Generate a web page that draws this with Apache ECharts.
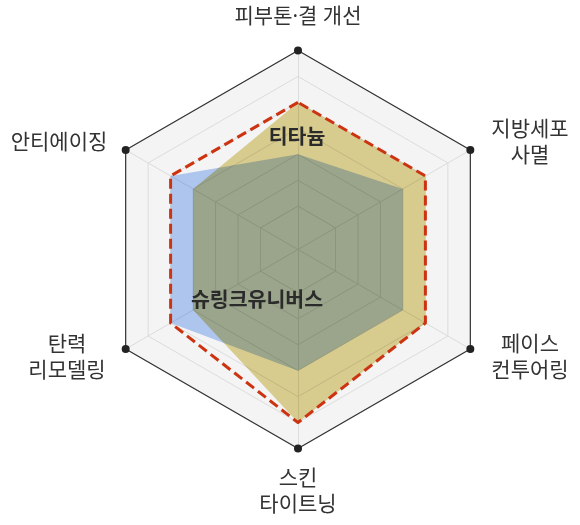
<!DOCTYPE html>
<html><head><meta charset="utf-8">
<script src="https://cdn.jsdelivr.net/npm/echarts@6/dist/echarts.min.js"></script>
<style>html,body{margin:0;padding:0;background:#fff}#c{width:580px;height:525px}</style>
</head><body><div id="c"></div>
<script>
// indicators, counter-clockwise from the top (ECharts radar order)
const categories = ['피부톤·결 개선', '안티에이징', '탄력\n리모델링', '스킨\n타이트닝', '페이스\n컨투어링', '지방세포\n사멸'];
const levelMax = 6;
const titaniumValues = [4, 3, 3, 5, 4, 4];
const shrinkValues = [2, 4, 4, 3, 3, 3];
const envelopeValues = [4, 4, 4, 5, 4, 4];
const frameValues = [6, 6, 6, 6, 6, 6];
const seriesNames = ['티타늄', '슈링크유니버스'];

const labelPos = [[298, 17], [59, 143], [67, 358], [298, 492], [530, 358], [530, 143]];
const seriesLabelPos = [[297, 138], [257, 301]];

const chart = echarts.init(document.getElementById('c'), null, {renderer: 'canvas'});
const C = [298, 249.5], R0 = 43.3, R = 199;
const gridLine = '#dcdcdc', areaFill = '#f4f4f4';
const font = '"Noto Sans", "Noto Sans CJK KR", sans-serif';

const graphic = categories.map((n, i) => ({
  type: 'text', x: labelPos[i][0], y: labelPos[i][1], silent: true,
  style: {text: n, fill: '#333', fontSize: 21, fontFamily: font, align: 'center', verticalAlign: 'middle', lineHeight: 26}
})).concat(seriesNames.map((n, i) => ({
  type: 'text', x: seriesLabelPos[i][0], y: seriesLabelPos[i][1], silent: true, z: 100,
  style: {text: n, fill: '#2b2b2b', fontSize: 20.5, fontWeight: 'bold', fontFamily: font, align: 'center', verticalAlign: 'middle'}
})));

chart.setOption({
  animation: false,
  backgroundColor: '#fff',
  radar: [
    {
      center: C, radius: [R0, R], startAngle: 90, splitNumber: 6, shape: 'polygon',
      indicator: categories.map(n => ({name: n, min: 0, max: levelMax})),
      axisName: {show: false},
      splitLine: {lineStyle: {color: gridLine, width: 1}},
      splitArea: {show: true, areaStyle: {color: [areaFill]}},
      axisLine: {lineStyle: {color: gridLine, width: 1}},
      axisTick: {show: false}, axisLabel: {show: false}
    },
    {
      center: C, radius: R0, startAngle: 90, splitNumber: 1, shape: 'polygon',
      indicator: categories.map(n => ({name: n, min: 0, max: 1})),
      axisName: {show: false},
      splitLine: {lineStyle: {color: gridLine, width: 1}},
      splitArea: {show: true, areaStyle: {color: [areaFill]}},
      axisLine: {lineStyle: {color: gridLine, width: 1}},
      axisTick: {show: false}, axisLabel: {show: false}
    }
  ],
  series: [
    {
      type: 'radar', radarIndex: 0, silent: true, blendMode: 'multiply', z: 2,
      symbol: 'none',
      lineStyle: {width: 0, opacity: 0},
      areaStyle: {color: '#e2d494', opacity: 1},
      data: [{name: seriesNames[0], value: titaniumValues}]
    },
    {
      type: 'radar', radarIndex: 0, silent: true, blendMode: 'multiply', z: 3,
      symbol: 'none',
      lineStyle: {width: 0, opacity: 0},
      areaStyle: {color: '#b6cff9', opacity: 1},
      data: [{name: seriesNames[1], value: shrinkValues}]
    },
    {
      type: 'radar', radarIndex: 0, silent: true, z: 4,
      symbol: 'none',
      lineStyle: {color: '#cc3311', width: 3, type: [10, 5]},
      data: [{name: 'envelope', value: envelopeValues}]
    },
    {
      type: 'radar', radarIndex: 0, silent: true, z: 5,
      symbol: 'circle', symbolSize: 8,
      itemStyle: {color: '#222'},
      lineStyle: {color: '#333', width: 1.2},
      data: [{name: 'frame', value: frameValues}]
    }
  ],
  graphic: graphic
});
</script>
</body></html>
